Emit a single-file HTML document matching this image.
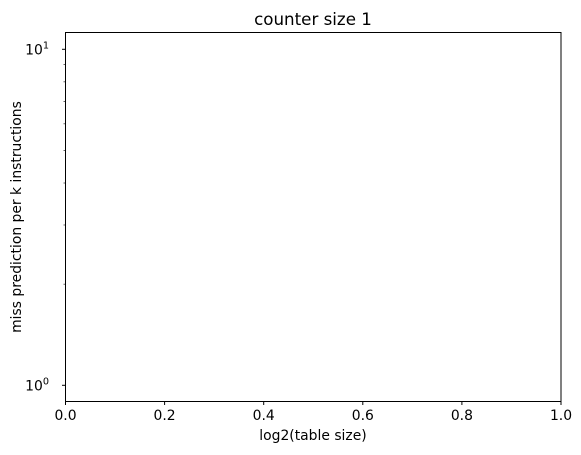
<!DOCTYPE html>
<html><head><meta charset="utf-8"><style>
body{margin:0;background:#fff}
svg{display:block;font-family:"DejaVu Sans","Liberation Sans",sans-serif}
</style></head><body>
<svg width="581" height="455" viewBox="0 0 581 455">
<text x="313" y="25" font-size="16.7" text-anchor="middle">counter size 1</text>
<rect x="65.5" y="32.5" width="495.5" height="369" fill="none" stroke="#000" stroke-width="1"/>
<g id="xt"></g>
<g id="yt"></g>
<text x="313" y="440" font-size="13.9" text-anchor="middle">log2(table size)</text>
<text transform="translate(21,217) rotate(-90)" font-size="13.9" text-anchor="middle">miss prediction per k instructions</text>
</svg>
<script>
const xTicks=[0,0.2,0.4,0.6,0.8,1.0];
const xLabels=["0.0","0.2","0.4","0.6","0.8","1.0"];
const yMajor=[1,10];
const yMinor=[2,3,4,5,6,7,8,9];
const NS="http://www.w3.org/2000/svg";
const x=v=>65.5+v*495.5;
const y=v=>385.3-Math.log10(v)*336;
const xt=document.getElementById('xt'),yt=document.getElementById('yt');
function mk(t,a,p){const e=document.createElementNS(NS,t);for(const k in a)e.setAttribute(k,a[k]);p.appendChild(e);return e;}
xTicks.forEach((v,i)=>{
const l=mk('line',{x1:x(v),x2:x(v),y1:401.5,y2:405,stroke:'#000'},xt);


const t=mk('text',{x:x(v),y:420,'font-size':13.9,'text-anchor':'middle'},xt);t.textContent=xLabels[i];


});
yMajor.forEach(v=>{
const l=mk('line',{x1:62,x2:65.5,y1:y(v),y2:y(v),stroke:'#000'},yt);


const t=mk('text',{x:49,y:y(v)+5,'font-size':13.9,'text-anchor':'end'},yt);
t.textContent='10';
const s=mk('tspan',{dy:-6,'font-size':9.7},t);s.textContent=String(Math.round(Math.log10(v)));


});
yMinor.forEach(v=>{
const l=mk('line',{x1:63.5,x2:65.5,y1:y(v),y2:y(v),stroke:'#000','stroke-width':0.6},yt);


});
</script>
</body></html>
